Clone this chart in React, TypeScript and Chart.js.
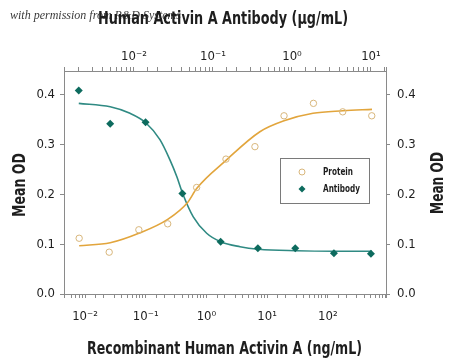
import { useEffect, useRef } from 'react';
import { Chart, registerables } from 'chart.js';

Chart.register(...registerables);

// ---- data ----
const proteinConc = [0.008, 0.025, 0.077, 0.23, 0.69, 2.1, 6.3, 19, 58, 176, 530]; // ng/mL (bottom axis)
const proteinOD = [0.112, 0.084, 0.129, 0.141, 0.214, 0.271, 0.296, 0.358, 0.383, 0.366, 0.358];
const antibodyConc = [0.002, 0.005, 0.014, 0.041, 0.125, 0.37, 1.1, 3.4, 10]; // µg/mL (top axis)
const antibodyOD = [0.409, 0.342, 0.345, 0.202, 0.105, 0.092, 0.092, 0.082, 0.081];

// fitted curves
const proteinFitConc = [0.008, 0.026, 0.077, 0.23, 0.49, 0.69, 2.08, 7.6, 19, 57, 178, 535];
const proteinFitOD = [0.097, 0.103, 0.122, 0.15, 0.184, 0.212, 0.268, 0.326, 0.348, 0.363, 0.368, 0.371];
const antibodyFitConc = [0.002, 0.005, 0.0089, 0.0141, 0.0213, 0.0286, 0.0348, 0.0413, 0.0563, 0.0832, 0.125, 0.22, 0.378, 1.12, 3.4, 10.3];
const antibodyFitOD = [0.383, 0.376, 0.363, 0.344, 0.31, 0.269, 0.236, 0.202, 0.155, 0.122, 0.105, 0.095, 0.09, 0.087, 0.086, 0.086];

const seriesNames = ['Protein', 'Antibody'];
const bottomTitle = 'Recombinant Human Activin A (ng/mL)';
const topTitle = 'Human Activin A Antibody (\u00b5g/mL)';
const yTitle = 'Mean OD';
const watermark = 'with permission from R&D Systems';

const bottomRange = [0.0045, 910];
const topRange = [0.0013, 15.5];
const yRange = [0, 0.448];
const yTickMax = 0.4;

const FONT = '"Liberation Sans Narrow", "DejaVu Sans Condensed", "Liberation Sans", sans-serif';
const TEXT = '#1e1e1e';
const AXIS = '#8a8a8a';
const ORANGE_LINE = '#e2a53c';
const ORANGE_PT = '#d9b77c';
const TEAL_LINE = '#2f8a83';
const TEAL_PT = '#0d6b5e';

const SUP: Record<string, string> = { '-': '\u207b', '0': '\u2070', '1': '\u00b9', '2': '\u00b2', '3': '\u00b3' };
const powLabel = (v: number) => {
  const e = Math.log10(v);
  const r = Math.round(e);
  if (Math.abs(e - r) > 1e-6) return '';
  return '10' + String(r).split('').map((c) => SUP[c] || c).join('');
};

const zip = (xs: number[], ys: number[]) => xs.map((x, i) => ({ x, y: ys[i] }));

// draw text at (0,0) of current transform, squeezed to a target width
const fitText = (ctx: CanvasRenderingContext2D, text: string, width: number) => {
  const w = ctx.measureText(text).width;
  const s = Math.min(1, width / w);
  ctx.save();
  ctx.scale(s, 1);
  ctx.fillText(text, 0, 0);
  ctx.restore();
};

const overlay = {
  id: 'overlay',
  beforeDraw(chart: any) {
    const ctx = chart.ctx;
    ctx.save();
    ctx.fillStyle = '#fff';
    ctx.fillRect(0, 0, chart.width, chart.height);
    ctx.font = 'italic 12px "Liberation Serif", "DejaVu Serif", serif';
    ctx.fillStyle = '#3a3a3a';
    ctx.textAlign = 'left';
    ctx.textBaseline = 'alphabetic';
    ctx.fillText(watermark, 10, 19);
    ctx.restore();
  },
  afterDraw(chart: any) {
    const ctx = chart.ctx;
    ctx.save();
    ctx.fillStyle = TEXT;
    ctx.font = 'bold 18px ' + FONT;
    ctx.textAlign = 'center';
    ctx.textBaseline = 'alphabetic';
    ctx.save();
    ctx.translate(224.5, 354);
    fitText(ctx, bottomTitle, 275);
    ctx.restore();
    ctx.save();
    ctx.translate(223, 24);
    fitText(ctx, topTitle, 250);
    ctx.restore();
    // left
    ctx.save();
    ctx.translate(25, 185);
    ctx.rotate(-Math.PI / 2);
    fitText(ctx, yTitle, 64);
    ctx.restore();
    // right
    ctx.save();
    ctx.translate(443, 183);
    ctx.rotate(-Math.PI / 2);
    fitText(ctx, yTitle, 62);
    ctx.restore();

    // legend
    const lx = 280, ly = 158, lw = 89, lh = 45;
    ctx.strokeStyle = '#7a7a7a';
    ctx.lineWidth = 1;
    ctx.strokeRect(lx + 0.5, ly + 0.5, lw, lh);
    ctx.font = 'bold 11px ' + FONT;
    ctx.textAlign = 'left';
    ctx.textBaseline = 'middle';
    ctx.fillStyle = TEXT;
    ctx.save();
    ctx.translate(lx + 43, ly + 14);
    fitText(ctx, seriesNames[0], 30);
    ctx.restore();
    ctx.save();
    ctx.translate(lx + 43, ly + 31);
    fitText(ctx, seriesNames[1], 37);
    ctx.restore();
    // markers
    ctx.beginPath();
    ctx.arc(lx + 22, ly + 14, 3, 0, Math.PI * 2);
    ctx.strokeStyle = ORANGE_PT;
    ctx.stroke();
    ctx.beginPath();
    const dx = lx + 22, dy = ly + 31, r = 3.5;
    ctx.moveTo(dx, dy - r);
    ctx.lineTo(dx + r, dy);
    ctx.lineTo(dx, dy + r);
    ctx.lineTo(dx - r, dy);
    ctx.closePath();
    ctx.fillStyle = TEAL_PT;
    ctx.fill();
    ctx.restore();
  },
};

export default function App() {
  const ref = useRef<HTMLCanvasElement>(null);
  useEffect(() => {
    if (!ref.current) return;
    const tickFont = { family: FONT, size: 13 };
    const logGrid = { drawOnChartArea: false, drawTicks: true, tickLength: 4, color: AXIS };
    const chart = new Chart(ref.current, {
      type: 'line',
      data: {
        datasets: [
          {
            label: seriesNames[0],
            type: 'scatter',
            data: zip(proteinConc, proteinOD),
            xAxisID: 'x',
            yAxisID: 'y',
            pointStyle: 'circle',
            pointRadius: 3.2,
            borderWidth: 1,
            borderColor: ORANGE_PT,
            backgroundColor: 'rgba(255,255,255,0)',
            showLine: false,
            order: 0,
          },
          {
            label: seriesNames[1],
            type: 'scatter',
            data: zip(antibodyConc, antibodyOD),
            xAxisID: 'x2',
            yAxisID: 'y',
            pointStyle: 'rectRot',
            pointRadius: 4,
            borderWidth: 0,
            borderColor: TEAL_PT,
            backgroundColor: TEAL_PT,
            showLine: false,
            order: 0,
          },
          {
            label: 'Protein fit',
            type: 'line',
            data: zip(proteinFitConc, proteinFitOD),
            xAxisID: 'x',
            yAxisID: 'y',
            borderColor: ORANGE_LINE,
            borderWidth: 1.6,
            pointRadius: 0,
            cubicInterpolationMode: 'monotone',
            fill: false,
            order: 1,
          },
          {
            label: 'Antibody fit',
            type: 'line',
            data: zip(antibodyFitConc, antibodyFitOD),
            xAxisID: 'x2',
            yAxisID: 'y',
            borderColor: TEAL_LINE,
            borderWidth: 1.6,
            pointRadius: 0,
            cubicInterpolationMode: 'monotone',
            fill: false,
            order: 1,
          },
        ],
      },
      options: {
        responsive: false,
        animation: false,
        layout: { padding: 0 },
        plugins: { legend: { display: false }, tooltip: { enabled: false }, title: { display: false } },
        scales: {
          x: {
            type: 'logarithmic',
            position: 'bottom',
            min: bottomRange[0],
            max: bottomRange[1],
            grid: logGrid,
            border: { display: true, color: AXIS },
            ticks: { autoSkip: false, maxRotation: 0, padding: 11, color: TEXT, font: tickFont, callback: (v: any) => powLabel(Number(v)) },
            afterFit: (s: any) => { s.height = 69; },
          },
          x2: {
            type: 'logarithmic',
            position: 'top',
            min: topRange[0],
            max: topRange[1],
            grid: logGrid,
            border: { display: true, color: AXIS },
            ticks: { autoSkip: false, maxRotation: 0, padding: 3, color: TEXT, font: tickFont, callback: (v: any) => powLabel(Number(v)) },
            afterFit: (s: any) => { s.height = 71; },
          },
          y: {
            type: 'linear',
            position: 'left',
            min: yRange[0],
            max: yRange[1],
            grid: { drawOnChartArea: false, drawTicks: true, tickLength: 4, color: AXIS },
            border: { display: true, color: AXIS },
            ticks: { stepSize: 0.1, padding: 5, color: TEXT, font: tickFont, callback: (v: any) => Number(v).toFixed(1) },
            afterBuildTicks: (s: any) => { s.ticks = s.ticks.filter((t: any) => t.value <= yTickMax + 1e-9); },
            afterFit: (s: any) => { s.width = 64; },
          },
          y2: {
            type: 'linear',
            position: 'right',
            min: yRange[0],
            max: yRange[1],
            grid: { drawOnChartArea: false, drawTicks: true, tickLength: 4, color: AXIS },
            border: { display: true, color: AXIS },
            ticks: { stepSize: 0.1, padding: 7, color: TEXT, font: tickFont, callback: (v: any) => Number(v).toFixed(1) },
            afterBuildTicks: (s: any) => { s.ticks = s.ticks.filter((t: any) => t.value <= yTickMax + 1e-9); },
            afterFit: (s: any) => { s.width = 64; },
          },
        },
      } as any,
      plugins: [overlay],
    });
    return () => chart.destroy();
  }, []);
  return (
    <div style={{ position: 'fixed', left: 0, top: 0, width: 450, height: 363, background: '#fff' }}>
      <canvas ref={ref} width={450} height={363} style={{ width: 450, height: 363, display: 'block' }} />
    </div>
  );
}
